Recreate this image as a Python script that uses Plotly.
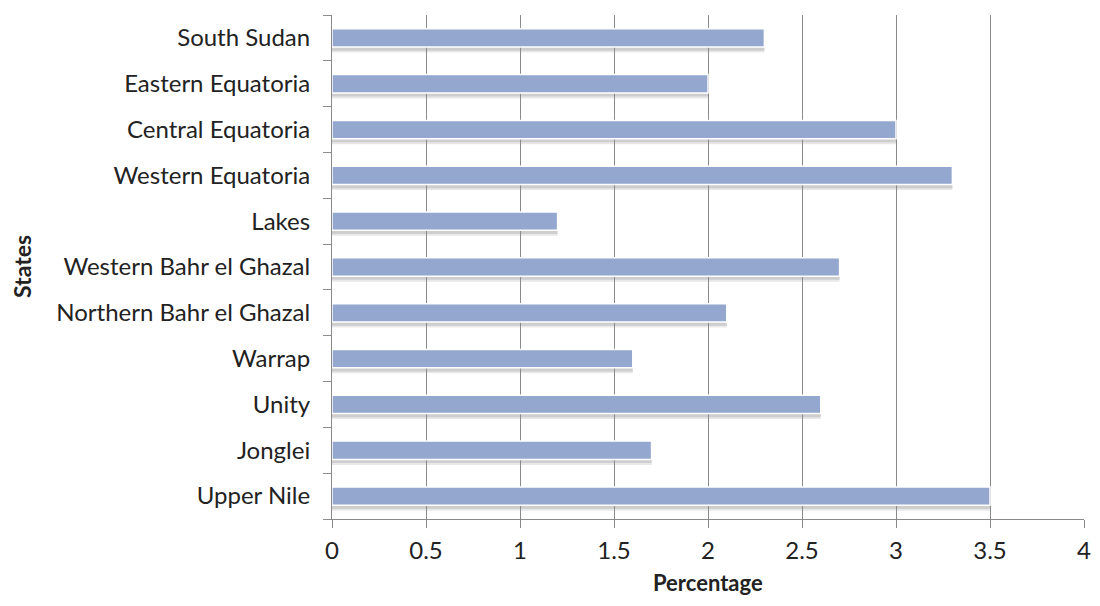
import plotly.graph_objects as go

states = ['Upper Nile', 'Jonglei', 'Unity', 'Warrap', 'Northern Bahr el Ghazal',
          'Western Bahr el Ghazal', 'Lakes', 'Western Equatoria', 'Central Equatoria',
          'Eastern Equatoria', 'South Sudan']
percentage = [3.5, 1.7, 2.6, 1.6, 2.1, 2.7, 1.2, 3.3, 3.0, 2.0, 2.3]

font_family = 'Lato, Open Sans, sans-serif'

fig = go.Figure()

# soft shadow under each bar
fig.add_trace(go.Bar(
    y=states, x=percentage, orientation='h',
    width=0.2, offset=-0.32,
    marker=dict(color='rgba(140,140,140,0.2)', line=dict(width=0)),
    hoverinfo='skip', showlegend=False,
))
fig.add_trace(go.Bar(
    y=states, x=percentage, orientation='h',
    width=0.12, offset=-0.28,
    marker=dict(color='rgba(140,140,140,0.28)', line=dict(width=0)),
    hoverinfo='skip', showlegend=False,
))
# main bars
fig.add_trace(go.Bar(
    y=states, x=percentage, orientation='h',
    width=0.4, offset=-0.2,
    marker=dict(color='#93A7CF', line=dict(color='white', width=1.5)),
    showlegend=False,
))

# page has an 8px body margin: keep the figure inside the window so no scrollbars show
fig.update_layout(
    width=1092, height=590,
    barmode='overlay',
    plot_bgcolor='white', paper_bgcolor='white',
    margin=dict(l=324, r=16, t=7, b=79),
    font=dict(family=font_family, size=24, color='#222222'),
    annotations=[
        dict(text='<b>Percentage</b>', x=0.5, xref='paper', y=0, yref='paper',
             yshift=-63, showarrow=False, font=dict(size=22), yanchor='middle'),
        dict(text='<b>States</b>', x=0, xref='paper', xshift=-310, y=0.5, yref='paper',
             textangle=-90, showarrow=False, font=dict(size=23), xanchor='center'),
    ],
)
fig.update_xaxes(
    range=[0, 4], dtick=0.5,
    showgrid=True, gridcolor='#8a8a8a', gridwidth=1,
    showline=True, linecolor='#8a8a8a', linewidth=1,
    ticks='outside', ticklen=8, tickcolor='#8a8a8a',
    zeroline=False, automargin=False, ticklabeloverflow='allow',
    ticklabelstandoff=2,
)
fig.update_yaxes(
    type='category', categoryorder='array', categoryarray=states,
    showline=True, linecolor='#8a8a8a', linewidth=1,
    ticks='outside', ticklen=8, tickcolor='#8a8a8a', tickson='boundaries',
    showgrid=False, automargin=False,
    ticklabelstandoff=16,
)

fig.write_html("out.html")
